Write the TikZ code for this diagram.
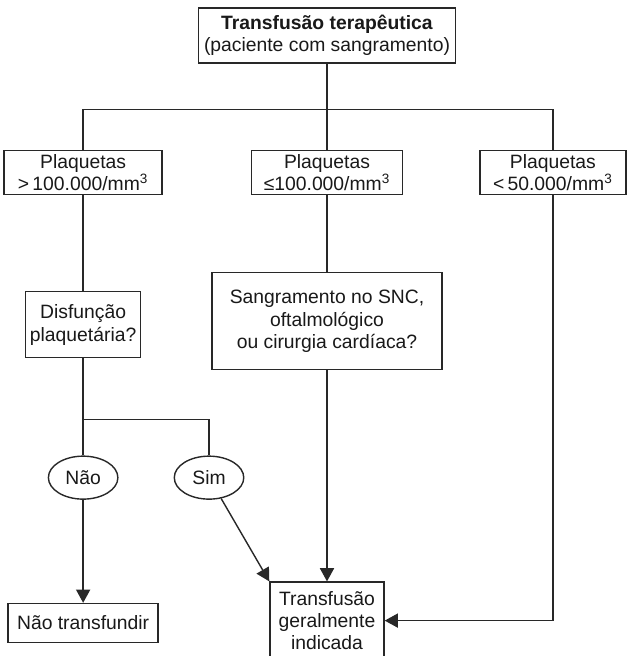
\documentclass[tikz,border=0pt]{standalone}
\usepackage{fontspec}
\setmainfont{Liberation Sans}
\usetikzlibrary{shapes.geometric, arrows.meta, positioning, calc}
\definecolor{linedark}{RGB}{40,40,40}
\definecolor{textdark}{RGB}{25,25,25}
\newcommand{\txtsize}{\fontsize{11}{12.8}\selectfont}
\tikzset{
  box/.style={rectangle, draw=linedark, line width=0.8pt, fill=white, text=textdark,
    font=\txtsize, align=center, inner sep=2pt},
  answer/.style={ellipse, draw=linedark, line width=0.8pt, text=textdark,
    font=\txtsize, inner sep=1pt, minimum width=1.39cm, minimum height=0.86cm},
  link/.style={line width=0.8pt, color=linedark},
  arr/.style={-{Triangle[length=7.5pt, width=8pt]}, line width=0.8pt, color=linedark},
}

\begin{document}
\begin{tikzpicture}[x=0.02cm, y=-0.02cm]
  \useasboundingbox (0,0) rectangle (626,656);

  \node[box, minimum width=5.14cm, minimum height=1.1cm] (top) at (327,35.5)
       {\textbf{Transfusão terapêutica}\\(paciente com sangramento)};
  \node[box, minimum width=3.02cm, minimum height=0.88cm, below=1.72cm of top] (mid)
       {Plaquetas\\≤100.000/mm\textsuperscript{3}};
  \node[box, minimum width=3.16cm, minimum height=0.88cm, left=1.76cm of mid] (high)
       {Plaquetas\\>\,100.000/mm\textsuperscript{3}};
  \node[box, minimum width=2.92cm, minimum height=0.88cm, right=1.52cm of mid] (low)
       {Plaquetas\\<\,50.000/mm\textsuperscript{3}};

  \node[box, minimum width=2.3cm, minimum height=1.32cm, below=1.92cm of high] (dysf)
       {Disfunção\\plaquetária?};
  \node[box, minimum width=4.6cm, minimum height=1.94cm, below=1.54cm of mid] (cns)
       {Sangramento no SNC,\\oftalmológico\\ou cirurgia cardíaca?};
  \node[answer, below=1.94cm of dysf] (no) {Não};
  \node[answer, right=1.1cm of no] (yes) {Sim};
  \node[box, minimum width=3cm, minimum height=0.78cm, below=2.06cm of no] (notx)
       {Não transfundir};
  \node[box, minimum width=2.28cm, minimum height=1.54cm, below=4.22cm of cns] (tx)
       {Transfusão\\geralmente\\indicada};

  \coordinate (split) at ($(top.south)!0.535!(mid.north)$);
  \coordinate (fork) at ($(dysf.south)!0.63!(no.north)$);

  \draw[link] (top) -- (mid);
  \draw[link] (high.north) |- (split) -| (low.north);
  \draw[link] (high) -- (dysf);
  \draw[link] (mid) -- (cns);
  \draw[link] (dysf) -- (no);
  \draw[link] (fork) -| (yes.north);

  \draw[arr] (no) -- (notx);
  \draw[arr] (yes) -- (tx.north west);
  \draw[arr] (cns) -- (tx);
  \draw[arr] (low) |- (tx.east);
\end{tikzpicture}
\end{document}
